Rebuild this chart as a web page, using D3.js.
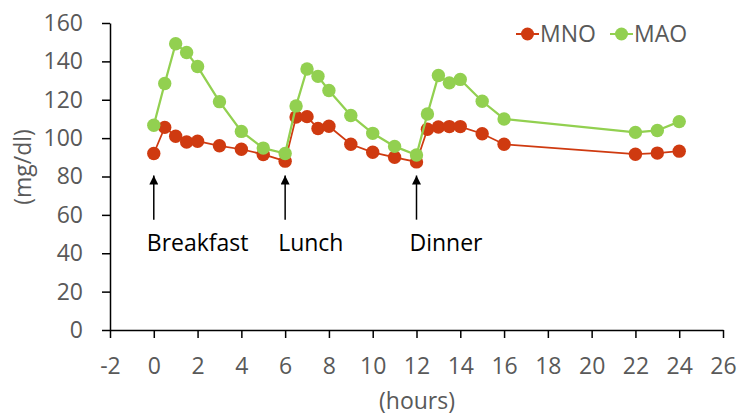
<!DOCTYPE html>
<html lang="en">
<head>
    <meta charset="UTF-8">
    <title>Glucose</title>
    <style>
        body { margin: 0; background: #fff; }
        text { font-family: "Open Sans", sans-serif; }
    </style>
</head>
<body>
    <script src="https://d3js.org/d3.v7.min.js"></script>
    <div id="chart"></div>
    <script>
        // data
        const hours = [0, 0.5, 1, 1.5, 2, 3, 4, 5, 6, 6.5, 7, 7.5, 8, 9, 10, 11, 12, 12.5, 13, 13.5, 14, 15, 16, 22, 23, 24];
        const mno = [92, 105.6, 101, 98, 98.4, 96, 94.2, 91.5, 88, 111, 111.2, 105, 106.2, 96.8, 92.6, 90, 87.6, 104.6, 105.8, 106, 106, 102.3, 96.8, 91.6, 92.2, 93.2];
        const mao = [106.7, 128.5, 149.2, 144.6, 137.3, 119, 103.5, 94.8, 92, 116.8, 136, 132.2, 124.8, 111.8, 102.5, 95.7, 91.2, 112.6, 132.6, 128.8, 130.6, 119.2, 110, 103, 104, 108.6];
        const seriesNames = ["MNO", "MAO"];
        const meals = ["Breakfast", "Lunch", "Dinner"];
        const mealHours = [0, 6, 12];
        const xTicks = d3.range(-2, 27, 2);
        const yTicks = d3.range(0, 161, 20);

        const W = 739, H = 416;
        const margin = { top: 23, left: 110 };
        const width = 723 - margin.left, height = 330 - margin.top;
        const colors = { MNO: "#cf3a10", MAO: "#92d050" };
        const fontSize = "23px";

        const svg = d3.select("#chart").append("svg")
            .attr("width", W).attr("height", H);
        const g = svg.append("g").attr("transform", `translate(${margin.left},${margin.top})`);

        const x = d3.scaleLinear().domain([-2, 26]).range([0, width]);
        const y = d3.scaleLinear().domain([0, 160]).range([height, 0]);

        // axes
        const yAxis = g.append("g")
            .call(d3.axisLeft(y).tickValues(yTicks).tickSize(8).tickSizeOuter(0).tickPadding(19));
        const xAxis = g.append("g")
            .attr("transform", `translate(0,${height})`)
            .call(d3.axisBottom(x).tickValues(xTicks).tickFormat(d => String(d)).tickSize(8).tickSizeOuter(0).tickPadding(20));
        [xAxis, yAxis].forEach(a => {
            a.select(".domain").attr("stroke", "#000").attr("stroke-width", 1.5);
            a.selectAll(".tick line").attr("stroke", "#000").attr("stroke-width", 1.5);
            a.selectAll(".tick text").attr("fill", "#595959").style("font-size", fontSize)
                .style("font-family", "'Open Sans', sans-serif");
        });

        svg.append("text")
            .attr("transform", `translate(31,167) rotate(-90)`)
            .attr("text-anchor", "middle")
            .attr("fill", "#595959").style("font-size", fontSize)
            .text("(mg/dl)");
        svg.append("text")
            .attr("x", 417).attr("y", 409)
            .attr("text-anchor", "middle")
            .attr("fill", "#595959").style("font-size", fontSize)
            .text("(hours)");

        // arrows + meal labels
        svg.append("defs").append("marker")
            .attr("id", "head").attr("viewBox", "0 0 10 10")
            .attr("refX", 10).attr("refY", 5)
            .attr("markerWidth", 6.5).attr("markerHeight", 6)
            .attr("markerUnits", "strokeWidth")
            .attr("orient", "auto")
            .append("path").attr("d", "M0,0L10,5L0,10z").attr("fill", "#000");
        mealHours.forEach((h, i) => {
            g.append("line")
                .attr("x1", x(h)).attr("x2", x(h))
                .attr("y1", y(57.5)).attr("y2", y(80.5))
                .attr("stroke", "#000").attr("stroke-width", 1.5)
                .attr("marker-end", "url(#head)");
            g.append("text")
                .attr("x", x(h) - 7).attr("y", y(41))
                .attr("fill", "#000").style("font-size", fontSize)
                .text(meals[i]);
        });

        // series
        const data = { MNO: mno, MAO: mao };
        seriesNames.forEach(name => {
            const pts = hours.map((h, i) => ({ h: h, v: data[name][i] }));
            g.append("path")
                .datum(pts)
                .attr("fill", "none")
                .attr("stroke", colors[name])
                .attr("stroke-width", name === "MAO" ? 2.25 : 1.75)
                .attr("d", d3.line().x(d => x(d.h)).y(d => y(d.v)));
            g.append("g").selectAll("circle")
                .data(pts).join("circle")
                .attr("cx", d => x(d.h)).attr("cy", d => y(d.v))
                .attr("r", 6.7)
                .attr("fill", colors[name]);
        });

        // legend
        const legX = [516, 610];
        seriesNames.forEach((name, i) => {
            const lg = svg.append("g").attr("transform", `translate(${legX[i]},34)`);
            lg.append("line").attr("x1", 0).attr("x2", 23).attr("stroke", colors[name]).attr("stroke-width", 2);
            lg.append("circle").attr("cx", 11.5).attr("r", 6.5).attr("fill", colors[name]);
            lg.append("text").attr("x", 24).attr("y", 8)
                .attr("fill", "#595959").style("font-size", fontSize).text(name);
        });
    </script>
</body>
</html>
